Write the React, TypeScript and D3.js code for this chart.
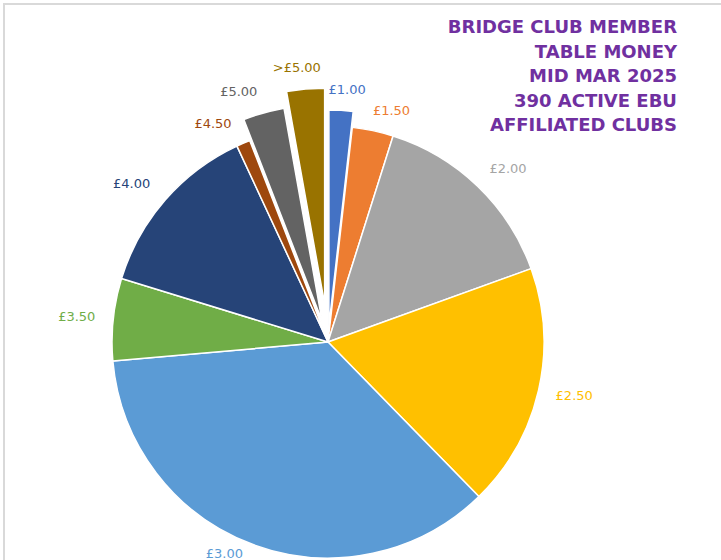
import React from "react";
import * as d3 from "d3";

const categories = ["£1.00", "£1.50", "£2.00", "£2.50", "£3.00", "£3.50", "£4.00", "£4.50", "£5.00", ">£5.00"];
const clubCounts = [7, 12, 57, 71, 140, 24, 52, 4, 12, 11];
const sliceColors = ["#4472C4", "#ED7D31", "#A5A5A5", "#FFC000", "#5B9BD5", "#70AD47", "#264478", "#9E480E", "#636363", "#997300"];
const titleLines = ["BRIDGE CLUB MEMBER", "TABLE MONEY", "MID MAR 2025", "390 ACTIVE EBU", "AFFILIATED CLUBS"];

// styling (not data)
const sliceExplode = [16, 0, 0, 0, 0, 0, 0, 0, 22, 38];
const labelNudge: [number, number][] = [
  [4, 4], [11, 4], [5, 0], [0, 0], [-16, -14], [0, 0], [-6, 0], [-16, 3], [-15, 2], [-5, 3],
];

const W = 721;
const H = 560;
const CX = 328;
const CY = 342;
const R = 216;
const LABEL_GAP = 18;
const LABEL_FONT = 13;

function textWidth(t: string, font: string): number {
  const c = document.createElement("canvas");
  const ctx = c.getContext("2d");
  if (!ctx) return t.length * 7.4;
  ctx.font = font;
  return ctx.measureText(t).width;
}

export default function App() {
  const data = categories.map((c, i) => ({ cat: c, value: clubCounts[i], i }));
  const pie = d3
    .pie<{ cat: string; value: number; i: number }>()
    .sort(null)
    .value((d) => d.value)
    .startAngle(0)
    .endAngle(2 * Math.PI);
  const arcs = pie(data);
  const arc = d3.arc<d3.PieArcDatum<{ cat: string; value: number; i: number }>>().innerRadius(0).outerRadius(R);

  return (
    <svg
      width={W}
      height={H}
      viewBox={`0 0 ${W} ${H}`}
      style={{ position: "absolute", left: 0, top: 0, background: "#fff" }}
    >
      <rect x={0} y={0} width={W} height={H} fill="#fff" />
      <path d={`M4,${H} V4 H${W}`} fill="none" stroke="#D9D9D9" strokeWidth={2} />
      <g transform={`translate(${CX},${CY})`}>
        {arcs.map((a) => {
          const mid = (a.startAngle + a.endAngle) / 2;
          const d = sliceExplode[a.data.i];
          const ox = Math.sin(mid) * d;
          const oy = -Math.cos(mid) * d;
          return (
            <path
              key={a.data.cat}
              d={arc(a) || ""}
              transform={`translate(${ox},${oy})`}
              fill={sliceColors[a.data.i]}
              stroke="#fff"
              strokeWidth={1.5}
              strokeLinejoin="round"
            />
          );
        })}
        {arcs.map((a) => {
          const mid = (a.startAngle + a.endAngle) / 2;
          const d = sliceExplode[a.data.i];
          const rr = R + d + LABEL_GAP;
          const w = textWidth(a.data.cat, `${LABEL_FONT}px "DejaVu Sans"`);
          const h = LABEL_FONT;
          const s = Math.sin(mid);
          const c = Math.cos(mid);
          const x = s * rr + (w / 2) * s + labelNudge[a.data.i][0];
          const y = -c * rr - (h / 2) * c + labelNudge[a.data.i][1];
          return (
            <text
              key={"l" + a.data.cat}
              x={x}
              y={y}
              textAnchor="middle"
              dominantBaseline="central"
              fontFamily='"DejaVu Sans", Verdana, sans-serif'
              fontSize={LABEL_FONT}
              fill={sliceColors[a.data.i]}
            >
              {a.data.cat}
            </text>
          );
        })}
      </g>
      <g>
        {titleLines.map((t, i) => (
          <text
            key={t}
            x={677}
            y={33 + i * 24.5}
            textAnchor="end"
            fontFamily='"DejaVu Sans", Verdana, sans-serif'
            fontWeight="bold"
            fontSize={18}
            fill="#7030A0"
          >
            {t}
          </text>
        ))}
      </g>
    </svg>
  );
}
